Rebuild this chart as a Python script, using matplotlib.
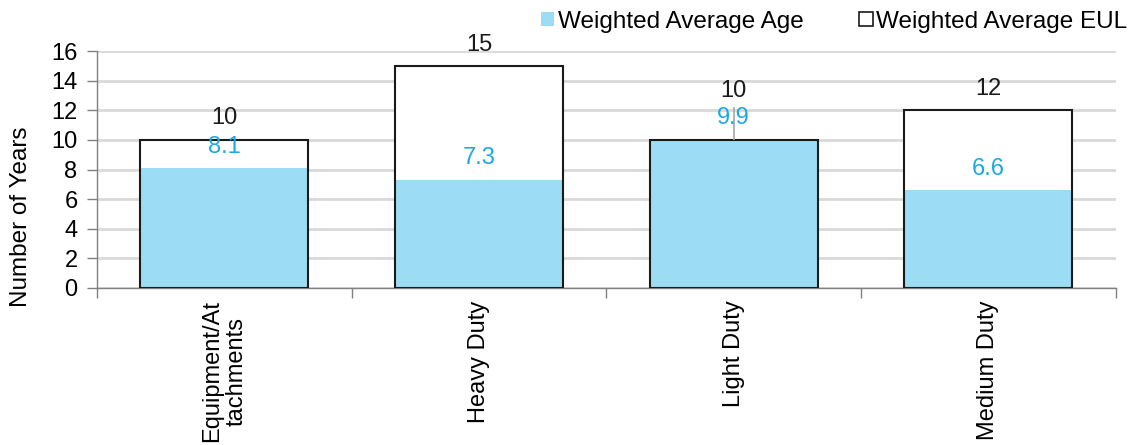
import numpy as np
import matplotlib
matplotlib.use("Agg")
import matplotlib.pyplot as plt
from matplotlib.patches import Patch

plt.rcParams["font.family"] = ["Liberation Sans", "DejaVu Sans"]

categories = ["Equipment/At\ntachments", "Heavy Duty", "Light Duty", "Medium Duty"]
avg_age = [8.1, 7.3, 9.9, 6.6]
avg_eul = [10, 15, 10, 12]

BLUE = "#9ddcf5"
LABEL_BLUE = "#1aa9e0"
GRID = "#d9d9d9"
AXIS = "#808080"

fig = plt.figure(figsize=(11.28, 4.45), dpi=100)
ax = fig.add_axes([0.086, 0.353, 0.903, 0.532])

x = np.arange(len(categories))
w = 0.66

ax.bar(x, avg_eul, w, color="white", edgecolor="none", zorder=2)
ax.bar(x, avg_age, w, color=BLUE, edgecolor="none", zorder=3)
ax.bar(x, avg_eul, w, fill=False, edgecolor="#1a1a1a", linewidth=1.5, zorder=4)

# data labels (Light Duty labels pushed up, with a leader line)
for i, (a, e) in enumerate(zip(avg_age, avg_eul)):
    if abs(a - e) < 0.5:
        ey, ay = e + 3.3, e + 1.45
        ax.vlines(i, e, ay + 0.75, color="#a6a6a6", linewidth=1.2, zorder=5)
    else:
        ey, ay = e + 1.45, a + 1.45
    ax.text(i, ey, f"{e:g}", ha="center", va="center", fontsize=17, color="#1a1a1a", zorder=6)
    ax.text(i, ay, f"{a:.1f}", ha="center", va="center", fontsize=17, color=LABEL_BLUE, zorder=6)

ax.set_xlim(-0.5, len(categories) - 0.5)
ax.set_ylim(0, 16)
ax.set_yticks(np.arange(0, 17, 2))
ax.yaxis.grid(True, color=GRID, linewidth=2)
ax.set_axisbelow(True)

ax.set_xticks(x)
ax.set_xticklabels(categories, rotation=90, fontsize=17, linespacing=1.1)
ax.set_xticks(np.arange(len(categories) + 1) - 0.5, minor=True)
ax.tick_params(axis="x", which="major", length=0, pad=9)
ax.tick_params(axis="x", which="minor", length=7, color=AXIS, width=1)
ax.tick_params(axis="y", length=7, color=AXIS, width=1, labelsize=17, pad=7)

for s in ["top", "right"]:
    ax.spines[s].set_visible(False)
for s in ["left", "bottom"]:
    ax.spines[s].set_color(AXIS)
    ax.spines[s].set_linewidth(1)

ax.set_ylabel("Number of Years", fontsize=17.5, va="center")
ax.yaxis.set_label_coords(-0.075, 0.30)

handles = [Patch(facecolor=BLUE, edgecolor="none", label="Weighted Average Age"),
           Patch(facecolor="white", edgecolor="#1a1a1a", linewidth=1.2, label="Weighted Average EUL")]
fig.legend(handles=handles, loc="upper right", bbox_to_anchor=(1.019, 1.025), ncol=2, frameon=False,
           fontsize=17.5, handlelength=0.55, handleheight=0.55, handletextpad=0.15, columnspacing=2.3)

fig.savefig("out.png", dpi=100)
